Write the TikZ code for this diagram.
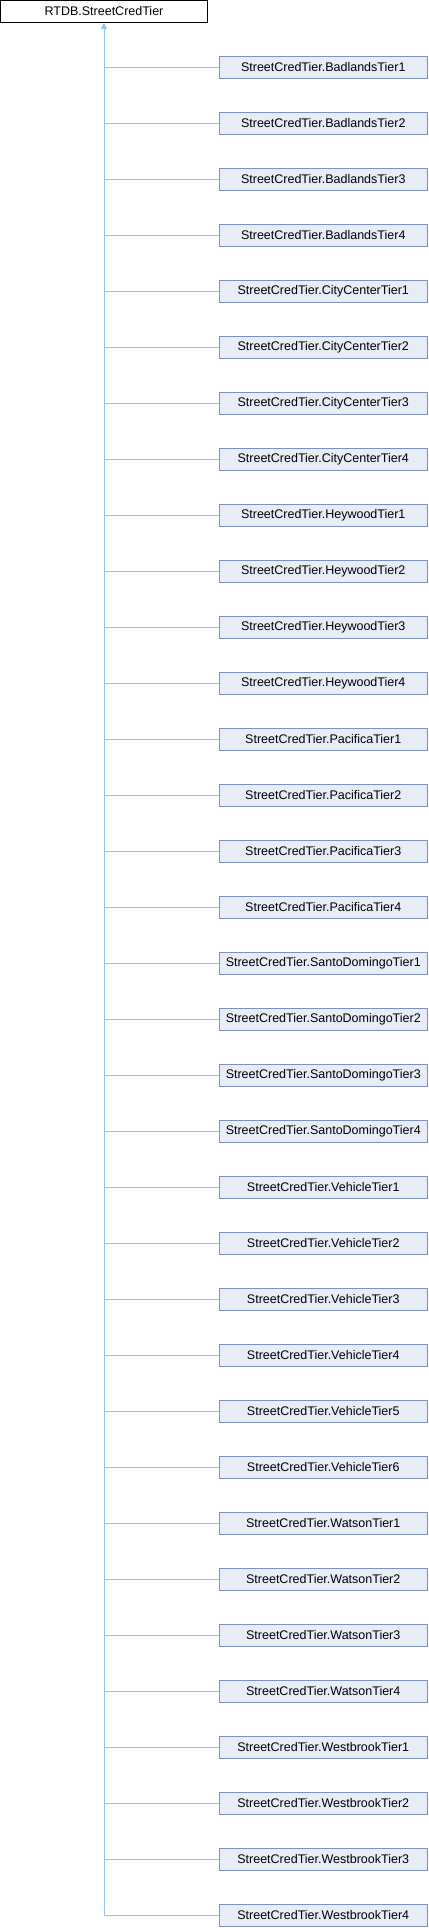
\documentclass[tikz,border=0pt]{standalone}
\usepackage{fontspec}
\setmainfont{Liberation Sans}
\usetikzlibrary{arrows.meta}
\definecolor{edgeblue}{HTML}{8CC8EE}
\definecolor{boxfill}{HTML}{E8ECF5}
\definecolor{boxdraw}{HTML}{8090C4}
\tikzset{
  rootbox/.style={draw=black, fill=white, line width=1bp, minimum width=207bp, minimum height=22bp, inner sep=0pt, font=\fontsize{12.5bp}{14bp}\selectfont},
  childbox/.style={draw=boxdraw, fill=boxfill, line width=1bp, minimum width=207.5bp, minimum height=22bp, inner sep=0pt, font=\fontsize{12.5bp}{14bp}\selectfont},
  edge/.style={draw=edgeblue, line width=1bp},
  tip/.style={-{Triangle[length=6bp,width=6bp]}}
}
\begin{document}
\begin{tikzpicture}[x=1bp,y=-1bp]
\useasboundingbox (0,0) rectangle (428,1928);
\node[rootbox] (root) at (104,11.5) {RTDB.StreetCredTier};
\foreach \name [count=\i from 0] in {BadlandsTier1,BadlandsTier2,BadlandsTier3,BadlandsTier4,CityCenterTier1,CityCenterTier2,CityCenterTier3,CityCenterTier4,HeywoodTier1,HeywoodTier2,HeywoodTier3,HeywoodTier4,PacificaTier1,PacificaTier2,PacificaTier3,PacificaTier4,SantoDomingoTier1,SantoDomingoTier2,SantoDomingoTier3,SantoDomingoTier4,VehicleTier1,VehicleTier2,VehicleTier3,VehicleTier4,VehicleTier5,VehicleTier6,WatsonTier1,WatsonTier2,WatsonTier3,WatsonTier4,WestbrookTier1,WestbrookTier2,WestbrookTier3,WestbrookTier4} {
  \node[childbox] (c\i) at (323.25,{67.5+56*\i}) {StreetCredTier.\name};
  \draw[edge] (c\i.west) -- (c\i.west -| root.south);
}
\draw[edge,tip,fill=edgeblue] (c33.west -| root.south) -- (root.south);
\end{tikzpicture}
\end{document}
